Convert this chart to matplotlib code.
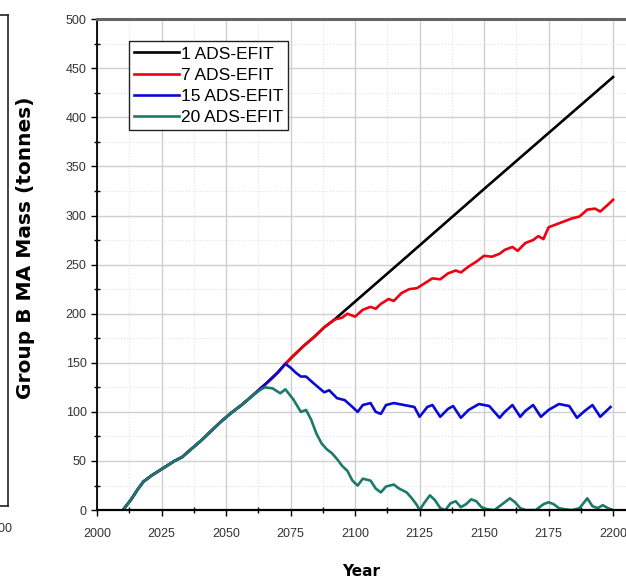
import matplotlib
matplotlib.use("Agg")
import matplotlib.pyplot as plt
from matplotlib.ticker import MultipleLocator

# shared build-up phase (all scenarios identical until divergence)
early_years = [2010, 2013, 2016, 2018, 2021, 2024, 2027, 2030, 2033, 2036,
               2040, 2044, 2048, 2052, 2056, 2060]
early_mass = [0, 10, 22, 29, 35, 40, 45, 50, 54, 61,
              70, 80, 90, 99, 107, 116]

# 20 ADS-EFIT
yr_20 = early_years + [2063, 2065, 2068, 2071, 2073, 2076, 2079, 2081, 2083, 2085,
                       2087, 2089, 2091, 2093, 2095, 2097, 2099, 2101, 2103, 2106,
                       2108, 2110, 2112, 2115, 2117, 2120, 2122, 2124, 2125, 2127,
                       2129, 2131, 2133, 2135, 2137, 2139, 2141, 2143, 2145, 2147,
                       2149, 2151, 2154, 2157, 2160, 2162, 2164, 2166, 2170, 2173,
                       2175, 2177, 2179, 2181, 2184, 2187, 2190, 2192, 2194, 2196,
                       2198, 2200]
m_20 = early_mass + [122, 125, 124, 119, 123, 113, 100, 102, 92, 78,
                     68, 62, 58, 52, 45, 40, 30, 25, 32, 30,
                     22, 18, 24, 26, 22, 18, 12, 5, 0, 8,
                     15, 10, 2, 0, 7, 9, 3, 6, 11, 9,
                     3, 1, 0, 6, 12, 8, 2, 0, 0, 6,
                     8, 6, 2, 1, 0, 2, 12, 4, 2, 5,
                     2, 0]

# 15 ADS-EFIT
yr_15 = early_years + [2063, 2066, 2070, 2073, 2075, 2077, 2079, 2081, 2084, 2088,
                       2090, 2093, 2096, 2099, 2101, 2103, 2106, 2108, 2110, 2112,
                       2115, 2119, 2123, 2125, 2128, 2130, 2133, 2136, 2138, 2141,
                       2144, 2148, 2152, 2156, 2158, 2161, 2164, 2166, 2169, 2172,
                       2175, 2179, 2183, 2186, 2189, 2192, 2195, 2197, 2199]
m_15 = early_mass + [123, 130, 140, 149, 145, 140, 136, 136, 129, 120,
                     122, 114, 112, 105, 100, 107, 109, 100, 98, 107,
                     109, 107, 105, 95, 105, 107, 95, 103, 106, 94,
                     102, 108, 106, 94, 100, 107, 95, 101, 107, 95,
                     102, 108, 106, 94, 101, 107, 95, 100, 105]

# 7 ADS-EFIT
yr_7 = early_years + [2063, 2066, 2070, 2073, 2076, 2080, 2084, 2088, 2092, 2095,
                      2097, 2100, 2103, 2106, 2108, 2110, 2113, 2115, 2118, 2121,
                      2124, 2127, 2130, 2133, 2136, 2139, 2141, 2144, 2147, 2150,
                      2153, 2156, 2158, 2161, 2163, 2166, 2169, 2171, 2173, 2175,
                      2178, 2181, 2184, 2187, 2190, 2193, 2195, 2198, 2200]
m_7 = early_mass + [123, 130, 140, 149, 157, 167, 176, 186, 194, 196,
                    200, 197, 204, 207, 205, 210, 215, 213, 221, 225,
                    226, 231, 236, 235, 241, 244, 242, 248, 253, 259,
                    258, 261, 265, 268, 264, 272, 275, 279, 276, 288,
                    291, 294, 297, 299, 306, 307, 304, 311, 316]

# 1 ADS-EFIT
yr_1 = early_years + [2063, 2066, 2070, 2073, 2076, 2080, 2084, 2088, 2092,
                      2120, 2150, 2175, 2200]
m_1 = early_mass + [123, 130, 140, 149, 157, 167, 176, 186, 194,
                    258, 327, 384, 441]

series = [
    ("1 ADS-EFIT", yr_1, m_1, "black"),
    ("7 ADS-EFIT", yr_7, m_7, "#f00010"),
    ("15 ADS-EFIT", yr_15, m_15, "#0a0ad8"),
    ("20 ADS-EFIT", yr_20, m_20, "#1b7a68"),
]

narrow = ["Liberation Sans Narrow", "Liberation Sans", "DejaVu Sans"]

fig = plt.figure(figsize=(6.26, 5.79), dpi=100)

# leftover edge of the neighbouring panel
ax0 = fig.add_axes([-0.3, 0.126, 0.3128, 0.848])
ax0.set_xlim(2000, 2210)
ax0.set_ylim(0, 500)
ax0.set_xticks([2200])
ax0.set_xticklabels(["2200"], fontsize=9, color="#333333", family=narrow)
ax0.set_yticks([])
ax0.tick_params(axis="x", length=0, pad=12)
for s in ax0.spines.values():
    s.set_color("#222222")
    s.set_linewidth(1.2)

ax = fig.add_axes([0.155, 0.119, 0.845, 0.848])

for label, x, y, c in series:
    ax.plot(x, y, color=c, lw=1.9, label=label)

ax.set_xlim(2000, 2205)
ax.set_ylim(0, 500)
ax.xaxis.set_major_locator(MultipleLocator(25))
ax.xaxis.set_minor_locator(MultipleLocator(12.5))
ax.yaxis.set_major_locator(MultipleLocator(50))
ax.yaxis.set_minor_locator(MultipleLocator(25))
ax.set_xticks(range(2000, 2201, 25))

ax.grid(True, which="major", color="#cfcfcf", lw=1.0)
ax.grid(True, which="minor", color="#e2e2e2", lw=0.8, ls=":")
ax.set_axisbelow(True)

ax.tick_params(which="major", direction="out", length=4, width=1,
               labelsize=9, labelcolor="#333333")
ax.tick_params(axis="x", which="major", pad=9)
ax.tick_params(which="minor", direction="inout", length=4, width=1)
for lab in ax.get_xticklabels() + ax.get_yticklabels():
    lab.set_family(narrow)

ax.spines["right"].set_visible(False)
ax.spines["left"].set_linewidth(1.3)
ax.spines["bottom"].set_linewidth(1.6)
ax.spines["top"].set_linewidth(2.2)
ax.spines["top"].set_color("#666666")

ax.set_xlabel("Year", fontsize=11, fontweight="bold", labelpad=17)
ax.set_ylabel("Group B MA Mass (tonnes)", fontsize=14.5, fontweight="bold")
ax.yaxis.set_label_coords(-0.118, 0.534)

leg = ax.legend(loc="upper left", bbox_to_anchor=(0.06, 0.955), fancybox=False,
                framealpha=1, edgecolor="#222222", handlelength=2.6,
                handletextpad=0.1, labelspacing=0.35, borderpad=0.3,
                borderaxespad=0, prop={"family": narrow, "size": 12.5})
leg.get_frame().set_linewidth(1.0)

fig.savefig("out.png", dpi=100)
